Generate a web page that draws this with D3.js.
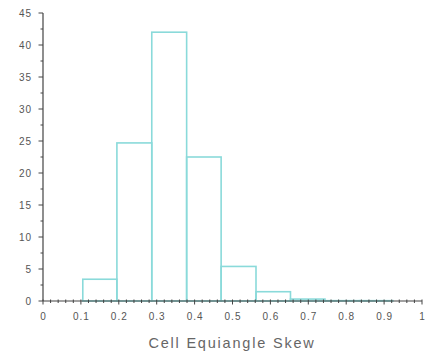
<!DOCTYPE html>
<html><head><meta charset="utf-8">
<script src="https://cdn.jsdelivr.net/npm/d3@7"></script>
<style>body{margin:0;background:#fff}svg{display:block}</style>
</head><body>
<svg id="c" width="425" height="358"></svg>
<script>
// bin edges (Cell Equiangle Skew) and counts
const binStarts = [0, 0.105, 0.195, 0.287, 0.379, 0.470, 0.562, 0.653, 0.744, 0.835];
const binEnds   = [0.105, 0.195, 0.287, 0.379, 0.470, 0.562, 0.653, 0.744, 0.835, 0.923];
const counts    = [0, 3.4, 24.7, 42.0, 22.5, 5.4, 1.45, 0.3, 0.05, 0.05];
const xTickLabels = ["0","0.1","0.2","0.3","0.4","0.5","0.6","0.7","0.8","0.9","1"];
const yTickLabels = ["0","5","10","15","20","25","30","35","40","45"];
const xLabel = "Cell Equiangle Skew";

const svg = d3.select("#c");
const x = d3.scaleLinear().domain([0, 1]).range([43, 422]);
const y = d3.scaleLinear().domain([0, 45]).range([301, 13]);

// bars
svg.append("g").selectAll("rect").data(counts).join("rect")
  .attr("x", (d,i) => x(binStarts[i]))
  .attr("width", (d,i) => x(binEnds[i]) - x(binStarts[i]))
  .attr("y", d => y(d))
  .attr("height", d => y(0) - y(d))
  .attr("fill", "none")
  .attr("stroke", "#8adada")
  .attr("stroke-width", 1.6);

const axisColor = "#444";
// x axis
const gx = svg.append("g").attr("transform", `translate(0,${y(0)})`);
gx.append("line").attr("x1", x(0)).attr("x2", x(1)).attr("stroke", axisColor).attr("stroke-width", 1.2);
const minorX = d3.range(0, 51).map(i => i / 50);
gx.selectAll("line.mt").data(minorX).join("line").attr("class","mt")
  .attr("x1", d => x(d)).attr("x2", d => x(d))
  .attr("y1", -1.5).attr("y2", d => (Math.round(d*50) % 5 === 0) ? 3.5 : 2)
  .attr("stroke", axisColor).attr("stroke-width", 1);
gx.selectAll("text").data(xTickLabels).join("text")
  .attr("x", d => x(+d) + 0.5).attr("y", 19)
  .attr("text-anchor", "middle")
  .attr("font-family", "Liberation Sans, Arial, sans-serif")
  .attr("font-size", 10).attr("letter-spacing", 1)
  .attr("fill", "#555").text(d => d);

// y axis
const gy = svg.append("g").attr("transform", `translate(${x(0)},0)`);
gy.append("line").attr("y1", y(0)).attr("y2", y(45)).attr("stroke", axisColor).attr("stroke-width", 1.2);
const minorY = d3.range(0, 19).map(i => i * 2.5);
gy.selectAll("line.mt").data(minorY).join("line").attr("class","mt")
  .attr("y1", d => y(d)).attr("y2", d => y(d))
  .attr("x1", d => (d % 5 === 0) ? -4.5 : -2.5).attr("x2", 0)
  .attr("stroke", axisColor).attr("stroke-width", 1);
gy.selectAll("text").data(yTickLabels).join("text")
  .attr("x", -11).attr("y", d => y(+d) + 3.5)
  .attr("text-anchor", "end")
  .attr("font-family", "Liberation Sans, Arial, sans-serif")
  .attr("font-size", 10).attr("letter-spacing", 1)
  .attr("fill", "#555").text(d => d);

// axis title
svg.append("text").attr("x", 232).attr("y", 348)
  .attr("text-anchor", "middle")
  .attr("font-family", "Liberation Sans, Arial, sans-serif")
  .attr("font-size", 14.5).attr("letter-spacing", 1.8)
  .attr("fill", "#666").text(xLabel);
</script>
</body></html>
